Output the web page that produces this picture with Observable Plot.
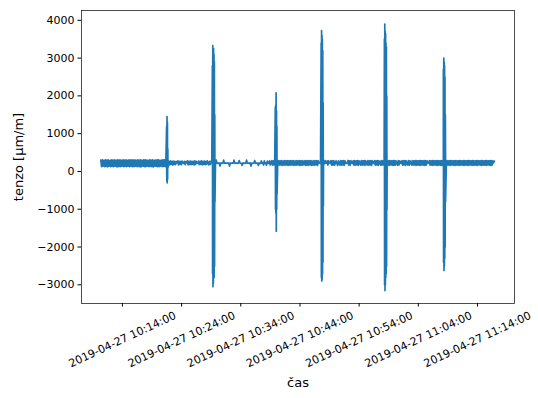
<!DOCTYPE html>
<html>
<head>
<meta charset="utf-8">
<script src="https://cdn.jsdelivr.net/npm/d3@7"></script>
<script src="https://cdn.jsdelivr.net/npm/@observablehq/plot@0.6"></script>
<style>
  html, body { margin: 0; padding: 0; background: #fff; }
  #chart svg { font-family: "DejaVu Sans", sans-serif; display: block; }
</style>
</head>
<body>
<div id="chart"></div>
<script>
// ---- data ----
// baseline readings, one every 7.5 s from startTime
const startTime = "2019-04-27T10:10:21";
const stepSeconds = 7.5;
const tenzo = [
  300,130,310,140,295,125,305,135,300,120,310,140,290,130,305,135,300,125,310,140,
  295,130,305,120,300,135,310,130,295,140,305,125,300,135,310,130,295,140,305,125,
  300,135,310,130,300,125,305,140,295,130,310,135,300,120,305,130,295,140,310,125,
  305,130,300,140,295,125,310,135,300,130,305,120,295,140,300,135,310,125,305,130,
  295,140,300,125,310,135,305,130,300,140,280,180,270,175,280,190,265,170,275,185,
  270,180,260,230,280,175,270,190,265,180,275,230,210,270,180,260,225,280,175,270,
  185,275,180,270,190,265,175,280,185,270,230,215,275,180,265,190,280,175,270,185,
  275,180,265,190,280,220,175,270,185,275,240,220,215,230,220,225,300,220,215,225,
  220,140,220,225,215,220,300,220,225,215,220,220,215,225,140,220,215,220,225,220,
  300,220,215,225,220,215,220,290,225,220,215,160,220,225,220,215,220,300,220,225,
  215,220,225,140,220,215,220,225,290,220,215,225,220,160,225,220,215,280,220,225,
  170,280,215,225,165,275,220,215,280,170,220,285,165,280,175,220,250,160,280,170,
  285,165,280,175,290,160,275,170,285,165,280,175,290,160,280,170,285,165,280,175,
  290,160,275,170,285,165,280,175,290,160,280,170,285,165,275,180,290,160,280,170,
  285,165,280,175,290,160,275,170,285,165,280,175,290,160,280,225,220,215,280,220,
  225,160,220,290,215,220,280,170,280,225,215,285,165,280,170,285,165,220,280,215,
  160,280,220,170,285,165,280,175,290,160,280,220,215,225,290,170,280,165,285,220,
  215,280,170,285,165,280,175,290,160,280,220,170,285,165,280,175,290,160,285,220,
  170,285,165,280,175,290,160,280,220,215,285,165,280,175,290,160,280,220,170,285,
  165,280,175,290,160,285,170,280,165,290,160,285,175,280,165,290,160,285,170,280,
  220,165,285,170,280,220,215,285,165,280,175,290,160,280,220,170,285,165,280,225,
  170,285,165,280,175,290,160,285,170,280,165,290,160,285,175,280,165,290,160,285,
  170,280,225,220,285,165,280,170,290,160,285,175,280,165,290,160,285,170,280,165,
  290,160,285,175,280,165,290,160,285,170,280,165,290,160,285,175,280,165,290,160,
  285,170,280,165,290,160,285,175,280,165,290,160,285,170,280,165,290,160,285,175,
  280,165,290,160,285,170,280,165,290,160,285,175,280,165,290,160,285,170,280,165,
  290,160,285,175,280,165,290,160,285,170,280,230,275
];
// load events, readings every 2 s from each start
const spikeStarts = ["2019-04-27T10:21:28", "2019-04-27T10:29:12", "2019-04-27T10:39:50",
                     "2019-04-27T10:47:35", "2019-04-27T10:58:16", "2019-04-27T11:08:14"];
const spikeStepSeconds = 2;
const spike1 = [1200, -250, 1450, -300, 1300, -200, 600, 100];
const spike2 = [2800, -2700, 3330, -3050, 3200, -2950, 3250, -2750, 3100, -2800, 2900, -2500, 1500, -800];
const spike3 = [1700, -1000, 1750, -1100, 2080, -1580, 1600, -1000, 1200, -600];
const spike4 = [3400, -2800, 3730, -2900, 3600, -2850, 3500, -2700, 3200, -2400, 1800, -900];
const spike5 = [3500, -3000, 3900, -3150, 3700, -3000, 3650, -2800, 3400, -2700, 3300, -2500, 2000, -1000];
const spike6 = [2700, -2400, 3000, -2620, 2900, -2500, 2800, -2300, 2500, -2000, 1500, -800];

const xTickLabels = [
  "2019-04-27 10:14:00", "2019-04-27 10:24:00", "2019-04-27 10:34:00",
  "2019-04-27 10:44:00", "2019-04-27 10:54:00", "2019-04-27 11:04:00",
  "2019-04-27 11:14:00"
];
const yTicks = [-3000, -2000, -1000, 0, 1000, 2000, 3000, 4000];
const xLabel = "čas";
const yLabel = "tenzo [μm/m]";

// ---- build table ----
const t0 = new Date(startTime).getTime();
const rows = tenzo.map((v, i) => ({t: new Date(t0 + i * stepSeconds * 1000), v}));
[spike1, spike2, spike3, spike4, spike5, spike6].forEach((vals, k) => {
  const s0 = new Date(spikeStarts[k]).getTime();
  vals.forEach((v, i) => rows.push({t: new Date(s0 + i * spikeStepSeconds * 1000), v}));
});
rows.sort((a, b) => a.t - b.t);
const xTicks = xTickLabels.map(s => ({date: new Date(s.replace(" ", "T")), label: s}));

const chart = Plot.plot({
  width: 538,
  height: 398,
  marginLeft: 81,
  marginRight: 24,
  marginTop: 10,
  marginBottom: 95,
  style: {fontFamily: "DejaVu Sans, sans-serif", background: "#fff"},
  x: {type: "time", domain: [new Date("2019-04-27T10:07:05"), new Date("2019-04-27T11:20:15")]},
  y: {domain: [-3495, 4260]},
  marks: [
    Plot.line(rows, {x: "t", y: "v", stroke: "#1f77b4", strokeWidth: 1.7}),
    Plot.frame({stroke: "#222", strokeWidth: 0.8}),
    Plot.axisY(yTicks, {tickSize: 3.5, tickPadding: 3.5, fontSize: 11, label: null, tickFormat: d3.format("d")}),
    Plot.axisX(xTicks.map(d => d.date), {tickSize: 3.5, tickFormat: () => "", label: null}),
    Plot.text(xTicks, {x: "date", text: "label", frameAnchor: "bottom", dy: 36, rotate: -25, fontSize: 11, textAnchor: "middle", lineAnchor: "middle"}),
    Plot.text([yLabel], {frameAnchor: "left", dx: -63, rotate: -90, fontSize: 13, textAnchor: "middle", lineAnchor: "middle"}),
    Plot.text([xLabel], {frameAnchor: "bottom", dy: 79, fontSize: 13, textAnchor: "middle", lineAnchor: "middle"})
  ]
});
document.getElementById("chart").appendChild(chart);
</script>
</body>
</html>
